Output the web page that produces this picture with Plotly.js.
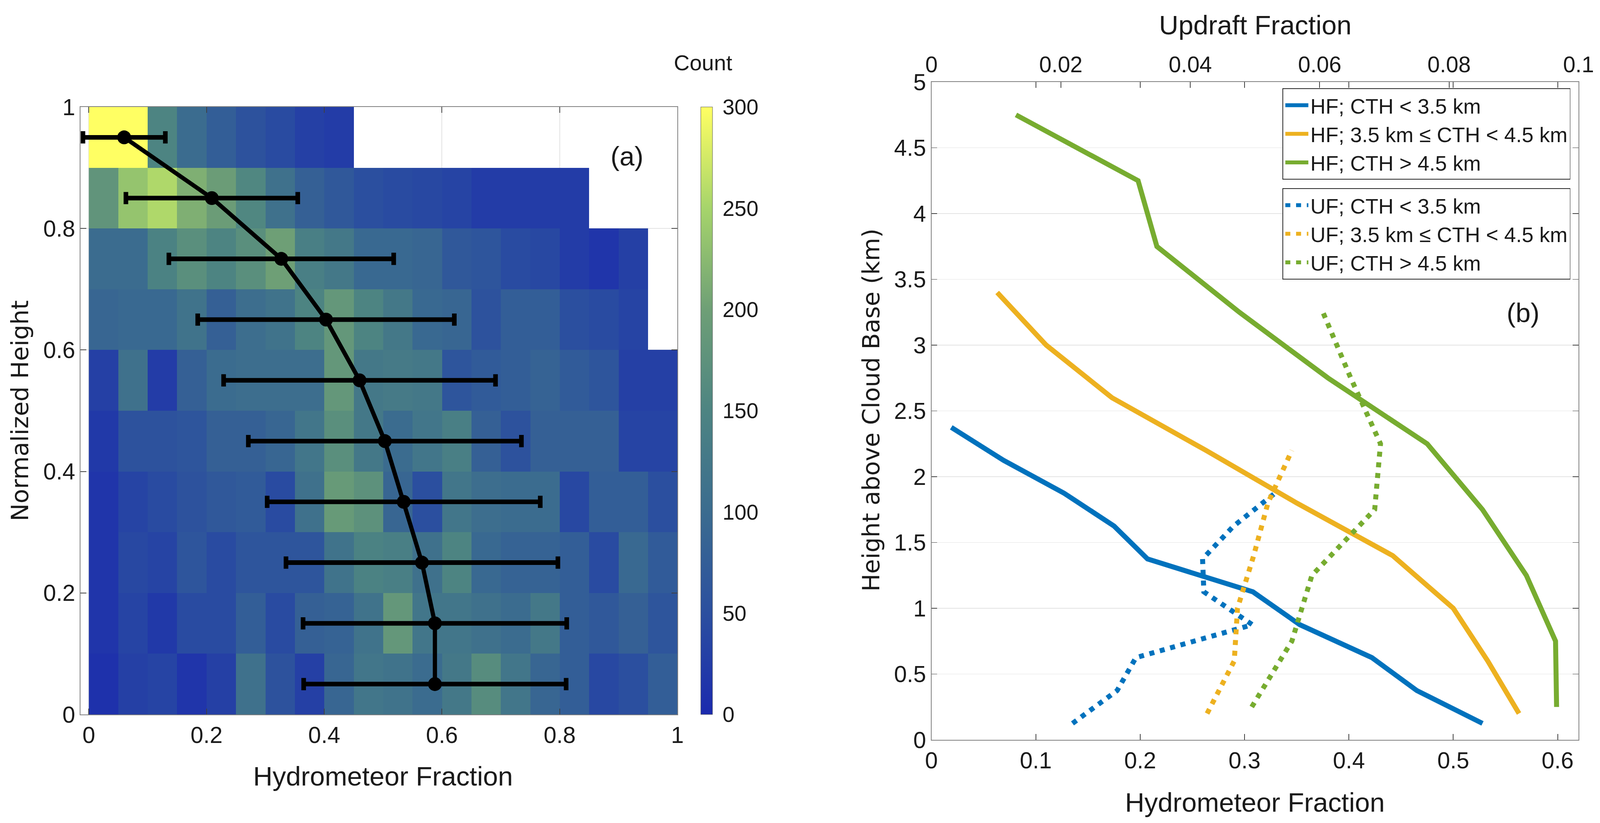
<!DOCTYPE html>
<html>
<head>
<meta charset="utf-8">
<script src="https://cdn.plot.ly/plotly-3.0.1.min.js"></script>
<style>
  html, body { margin: 0; padding: 0; background: #fff; overflow: hidden; }
  #fig { position: absolute; left: 0; top: 0; }
</style>
</head>
<body>
<div id="fig"></div>
<script>
// ---- panel (a): 2D histogram of hydrometeor fraction vs normalized height ----
const hfBins = [0.025, 0.075, 0.125, 0.175, 0.225, 0.275, 0.325, 0.375, 0.425, 0.475,
                0.525, 0.575, 0.625, 0.675, 0.725, 0.775, 0.825, 0.875, 0.925, 0.975];
const normHeight = [0.05, 0.15, 0.25, 0.35, 0.45, 0.55, 0.65, 0.75, 0.85, 0.95];

// counts, bottom row first (null = no data)
const countRows = [
  [10, 30, 35, 15, 30, 110, 55, 30, 90, 120, 115, 100, 125, 165, 120, 90, 75, 40, 50, 75],
  [15, 35, 20, 45, 45, 75, 45, 80, 85, 115, 185, 120, 120, 110, 100, 125, 75, 65, 80, 60],
  [15, 40, 35, 60, 45, 60, 60, 60, 115, 145, 140, 110, 150, 95, 85, 85, 75, 45, 95, 70],
  [15, 35, 45, 55, 65, 70, 45, 110, 190, 175, 90, 50, 120, 105, 100, 100, 40, 75, 75, 50],
  [20, 55, 55, 60, 80, 80, 90, 120, 170, 125, 100, 120, 140, 80, 55, 80, 80, 80, 35, 35],
  [30, 110, 25, 80, 100, 105, 105, 105, 185, 125, 130, 125, 60, 70, 75, 85, 70, 60, 30, 30],
  [90, 95, 95, 115, 80, 105, 115, 150, 185, 150, 125, 95, 90, 55, 75, 75, 50, 45, 35, null],
  [100, 100, 145, 170, 150, 170, 200, 140, 125, 95, 95, 90, 65, 60, 45, 40, 25, 15, 30, null],
  [180, 235, 255, 215, 195, 155, 110, 80, 65, 50, 45, 40, 35, 25, 25, 25, 25, null, null, null],
  [300, 300, 150, 100, 75, 55, 45, 30, 25, null, null, null, null, null, null, null, null, null, null, null]
];

// mean hydrometeor fraction per height bin and half spread
const meanHF = [0.588, 0.588, 0.566, 0.535, 0.503, 0.460, 0.403, 0.327, 0.209, 0.060];
const spreadHF = [0.223, 0.224, 0.231, 0.232, 0.232, 0.231, 0.218, 0.191, 0.146, 0.070];

// ---- panel (b): profiles vs height above cloud base ----
const hLow = [0.125, 0.375, 0.625, 0.875, 1.125, 1.375, 1.625, 1.875, 2.125, 2.375];
const hfLow = [0.528, 0.465, 0.422, 0.353, 0.308, 0.207, 0.175, 0.127, 0.069, 0.019];
const hMid = [0.2, 0.6, 1.0, 1.4, 1.8, 2.2, 2.6, 3.0, 3.4];
const hfMid = [0.563, 0.533, 0.500, 0.442, 0.350, 0.263, 0.173, 0.110, 0.063];
const hHigh = [0.25, 0.75, 1.25, 1.75, 2.25, 2.75, 3.25, 3.75, 4.25, 4.75];
const hfHigh = [0.599, 0.598, 0.570, 0.528, 0.475, 0.380, 0.295, 0.216, 0.198, 0.081];

const hLowUF = [0.125, 0.375, 0.625, 0.875, 1.125, 1.375, 1.625, 1.875];
const ufLow = [0.0218, 0.0287, 0.0316, 0.0496, 0.0421, 0.0419, 0.0467, 0.0531];
const hMidUF = [0.2, 0.6, 1.0, 1.4, 1.8, 2.2];
const ufMid = [0.0426, 0.0468, 0.0473, 0.0498, 0.0520, 0.0557];
const hHighUF = [0.25, 0.75, 1.25, 1.75, 2.25, 2.75, 3.25];
const ufHigh = [0.0495, 0.0557, 0.0588, 0.0685, 0.0694, 0.0648, 0.0605];

const seriesNames = ['HF; CTH < 3.5 km', 'HF; 3.5 km \u2264 CTH < 4.5 km', 'HF; CTH > 4.5 km',
                     'UF; CTH < 3.5 km', 'UF; 3.5 km \u2264 CTH < 4.5 km', 'UF; CTH > 4.5 km'];
const colBlue = '#0072BD', colOrange = '#EDB120', colGreen = '#77AC30';

// layout is measured on a 4169 x 2108 reference; fit it to the actual viewport
const REF_W = 4169, REF_H = 2108;
const W = window.innerWidth || REF_W;
const H = window.innerHeight || REF_H;
const k = Math.min(W / REF_W, H / REF_H);
const s = v => v * k;
const px = X => X / REF_W;
const py = Y => 1 - Y / REF_H;

const dotted = s(13).toFixed(1) + 'px,' + s(15).toFixed(1) + 'px';

const countScale = [
  [0, '#1b2aae'], [0.1667, '#2b4f9f'], [0.3333, '#3b6c8f'], [0.5, '#4d8482'],
  [0.6667, '#6e9f76'], [0.8333, '#a6d46b'], [1, '#ffff63']
];

const traces = [
  {
    type: 'heatmap', x: hfBins, y: normHeight, z: countRows,
    zmin: 0, zmax: 300, colorscale: countScale, xaxis: 'x', yaxis: 'y',
    showlegend: false, legend: 'legend3', hoverongaps: false,
    colorbar: {
      x: px(1826), xanchor: 'left', xpad: 0, y: py(1830), yanchor: 'bottom', ypad: 0,
      len: (1830 - 274) / REF_H, lenmode: 'fraction', thickness: s(31),
      outlinecolor: '#555', outlinewidth: 1,
      ticks: 'outside', ticklen: s(15), tickcolor: 'rgba(0,0,0,0)',
      tickvals: [0, 50, 100, 150, 200, 250, 300],
      tickfont: {size: s(56), color: '#1a1a1a'}
    }
  },
  {
    type: 'scatter', mode: 'lines+markers', x: meanHF, y: normHeight,
    xaxis: 'x', yaxis: 'y', showlegend: false, legend: 'legend3',
    line: {color: '#000', width: s(11)},
    marker: {color: '#000', size: s(36)},
    error_x: {type: 'data', array: spreadHF, color: '#000', thickness: s(12), width: s(16)}
  },
  {type: 'scatter', mode: 'lines', x: hfLow, y: hLow, xaxis: 'x2', yaxis: 'y2',
   name: seriesNames[0], legend: 'legend', line: {color: colBlue, width: s(13)}},
  {type: 'scatter', mode: 'lines', x: hfMid, y: hMid, xaxis: 'x2', yaxis: 'y2',
   name: seriesNames[1], legend: 'legend', line: {color: colOrange, width: s(13)}},
  {type: 'scatter', mode: 'lines', x: hfHigh, y: hHigh, xaxis: 'x2', yaxis: 'y2',
   name: seriesNames[2], legend: 'legend', line: {color: colGreen, width: s(13)}},
  {type: 'scatter', mode: 'lines', x: ufLow, y: hLowUF, xaxis: 'x3', yaxis: 'y2',
   name: seriesNames[3], legend: 'legend2', line: {color: colBlue, width: s(13), dash: dotted}},
  {type: 'scatter', mode: 'lines', x: ufMid, y: hMidUF, xaxis: 'x3', yaxis: 'y2',
   name: seriesNames[4], legend: 'legend2', line: {color: colOrange, width: s(13), dash: dotted}},
  {type: 'scatter', mode: 'lines', x: ufHigh, y: hHighUF, xaxis: 'x3', yaxis: 'y2',
   name: seriesNames[5], legend: 'legend2', line: {color: colGreen, width: s(13), dash: dotted}}
];

const axisBase = {
  ticks: 'inside', ticklen: s(15), tickwidth: s(2), tickcolor: '#404040',
  showline: true, linecolor: '#808080', linewidth: s(2),
  zeroline: false, tickfont: {size: s(60), color: '#1a1a1a'}
};

const legendBase = {
  xanchor: 'left', yanchor: 'top', x: px(3342),
  bgcolor: '#fff', bordercolor: '#262626', borderwidth: s(2),
  font: {size: s(55), color: '#1a1a1a'}, itemwidth: Math.max(30, s(60)), tracegroupgap: 0
};

const annot = (text, X, Y, size, extra) => Object.assign({
  text: text, xref: 'paper', yref: 'paper', x: px(X), y: py(Y),
  xanchor: 'center', yanchor: 'middle', showarrow: false,
  font: {size: s(size), color: '#1a1a1a'}
}, extra || {});

const layout = {
  width: W, height: H,
  margin: {l: 0, r: 0, t: 0, b: 0},
  paper_bgcolor: '#fff', plot_bgcolor: '#fff',
  font: {family: 'Liberation Sans, Arial, sans-serif', color: '#1a1a1a'},
  xaxis: Object.assign({}, axisBase, {
    domain: [px(210), px(1765)], range: [-0.014, 1], anchor: 'y',
    dtick: 0.2, tick0: 0, mirror: 'ticks', ticklabelstandoff: s(12),
    showgrid: true, gridcolor: '#e3e3e3', gridwidth: s(2)
  }),
  yaxis: Object.assign({}, axisBase, {
    domain: [py(1830), py(274)], range: [0, 1], anchor: 'x',
    dtick: 0.2, tick0: 0, mirror: 'ticks', showgrid: true, gridcolor: '#e3e3e3', gridwidth: s(2)
  }),
  xaxis2: Object.assign({}, axisBase, {
    domain: [px(2427), px(4113)], range: [0, 0.62], anchor: 'y2',
    dtick: 0.1, tick0: 0, mirror: 'ticks', ticklabelstandoff: s(20), showgrid: false
  }),
  xaxis3: Object.assign({}, axisBase, {
    overlaying: 'x2', side: 'top', anchor: 'y2', range: [0, 0.1],
    dtick: 0.02, tick0: 0, ticklabelstandoff: s(14), showgrid: false,
    tickfont: {size: s(58), color: '#1a1a1a'}
  }),
  yaxis2: Object.assign({}, axisBase, {
    domain: [py(1895), py(210)], range: [0, 5], anchor: 'x2',
    dtick: 0.5, tick0: 0, mirror: 'ticks', showgrid: true, gridcolor: '#e3e3e3', gridwidth: s(2)
  }),
  legend: Object.assign({}, legendBase, {y: py(226)}),
  legend2: Object.assign({}, legendBase, {y: py(482)}),
  legend3: {visible: false},
  annotations: [
    annot('Normalized Height', 51, 1052, 62, {textangle: -90, font: {size: s(62), family: 'DejaVu Sans', color: '#1a1a1a'}}),
    annot('Hydrometeor Fraction', 998, 1988, 70),
    annot('Count', 1832, 160, 57),
    annot('(a)', 1634, 401, 70),
    annot('Height above Cloud Base (km)', 2269, 1050, 62, {textangle: -90, font: {size: s(62), family: 'DejaVu Sans', color: '#1a1a1a'}}),
    annot('Hydrometeor Fraction', 3270, 2055, 70),
    annot('Updraft Fraction', 3271, 64, 70),
    annot('(b)', 3968, 802, 70)
  ]
};

Plotly.newPlot('fig', traces, layout, {staticPlot: true, displayModeBar: false});
</script>
</body>
</html>
